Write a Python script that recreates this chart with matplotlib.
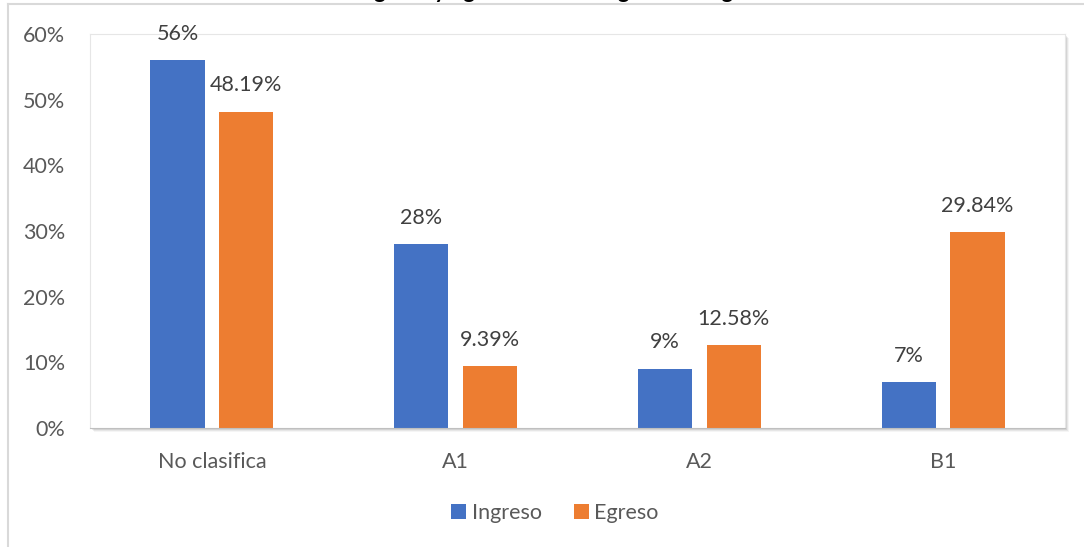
import matplotlib.pyplot as plt
from matplotlib.patches import Rectangle
from matplotlib.lines import Line2D
import numpy as np

categories = ["No clasifica", "A1", "A2", "B1"]
ingreso = [56, 28, 9, 7]
egreso = [48.19, 9.39, 12.58, 29.84]
ingreso_labels = ["56%", "28%", "9%", "7%"]
egreso_labels = ["48.19%", "9.39%", "12.58%", "29.84%"]
yticks = [0, 10, 20, 30, 40, 50, 60]

BLUE = "#4472c4"
ORANGE = "#ed7d31"
TEXT = "#595959"
FS = 15.5

plt.rcParams["font.family"] = ["Lato", "DejaVu Sans"]

fig = plt.figure(figsize=(10.84, 5.47), dpi=100)
fig.set_facecolor("white")
ax = fig.add_axes([0.083, 0.2176, 0.8995, 0.7202])

# soft drop shadow behind the plot area
W, H = fig.get_size_inches() * fig.dpi
pos = ax.get_position()
for i, a in enumerate([0.10, 0.08, 0.06, 0.04]):
    off = 1 + i
    fig.patches.append(Rectangle((pos.x0 + off / W, pos.y0 - off / H), pos.width, pos.height,
                                 transform=fig.transFigure, fc="#000000", ec="none",
                                 alpha=a, zorder=0))
ax.set_zorder(1)

# outer chart frame (only top and left edges fall inside the image)
fig.lines.append(Line2D([8 / W, 1], [1 - 4 / H, 1 - 4 / H], transform=fig.transFigure,
                        color="#d9d9d9", lw=1.5))
fig.lines.append(Line2D([8 / W, 8 / W], [0, 1 - 4 / H], transform=fig.transFigure,
                        color="#d9d9d9", lw=1.5))

x = np.arange(len(categories))
bw = 0.222
off = 0.141
b1 = ax.bar(x - off, ingreso, bw, color=BLUE, label="Ingreso", zorder=2)
b2 = ax.bar(x + off, egreso, bw, color=ORANGE, label="Egreso", zorder=2)

for bars, labels in ((b1, ingreso_labels), (b2, egreso_labels)):
    for bar, lab in zip(bars, labels):
        ax.annotate(lab, (bar.get_x() + bar.get_width() / 2, bar.get_height()),
                    xytext=(0, 19), textcoords="offset points",
                    ha="center", va="center", fontsize=FS, color="#404040")

ax.set_xlim(-0.5, 3.5)
ax.set_ylim(0, 60)
ax.set_yticks(yticks)
ax.set_yticklabels([f"{v}%" for v in yticks])
ax.set_xticks(x)
ax.set_xticklabels(categories)
ax.tick_params(axis="both", length=0, labelsize=FS, labelcolor=TEXT)
ax.tick_params(axis="y", pad=18)
ax.tick_params(axis="x", pad=17)
for s in ax.spines.values():
    s.set_color("#e6e6e6")
    s.set_linewidth(0.8)
ax.spines["bottom"].set_color("#bfbfbf")

ax.legend(loc="center", bbox_to_anchor=(0.477, -0.215), ncol=2,
          frameon=False, fontsize=FS, labelcolor=TEXT, handlelength=0.7,
          handleheight=0.7, handletextpad=0.25, columnspacing=1.5)

# title sits mostly above the visible canvas
fig.text(0.515, 1 + 1.5 / H, "Ingreso y egreso de la categoría de inglés",
         ha="center", va="baseline", fontsize=16, fontweight="bold", color="black")

fig.savefig("out.png", dpi=100, facecolor="white")
